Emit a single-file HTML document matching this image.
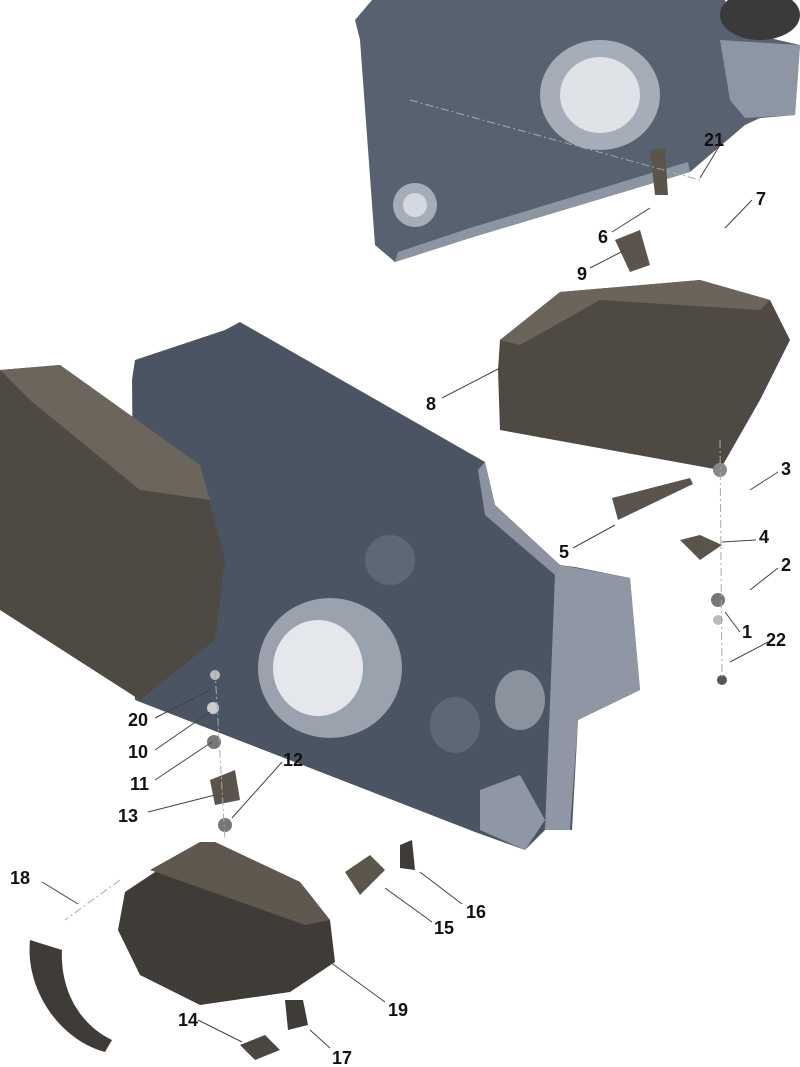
<!DOCTYPE html>
<html><head><meta charset="utf-8"><style>
html,body{margin:0;padding:0;background:#fff;width:800px;height:1067px;overflow:hidden}
svg text{font-family:"Liberation Sans",sans-serif;font-weight:bold;font-size:18px;fill:#111}
</style></head><body>
<svg width="800" height="1067" viewBox="0 0 800 1067" xmlns="http://www.w3.org/2000/svg">
<!-- top gearcase -->
<polygon points="372,0 725,0 735,30 800,45 795,115 760,118 745,125 690,172 470,238 395,262 375,245 360,40 355,20" fill="#58616f"/>
<polygon points="690,172 470,238 395,262 398,252 470,228 688,162" fill="#8c95a2"/>
<polygon points="720,40 800,45 795,115 745,118 730,100" fill="#8d96a3"/>
<ellipse cx="600" cy="95" rx="60" ry="55" fill="#a5adb8"/>
<ellipse cx="600" cy="95" rx="40" ry="38" fill="#dfe3e8"/>
<ellipse cx="415" cy="205" rx="22" ry="22" fill="#a5adb8"/>
<ellipse cx="415" cy="205" rx="12" ry="12" fill="#d5d9df"/>
<ellipse cx="760" cy="15" rx="40" ry="25" fill="#3a3a3a"/>
<!-- main gearcase -->
<polygon points="135,360 225,330 240,322 485,462 495,505 560,565 575,567 630,578 640,690 578,720 572,830 545,830 525,850 475,832 135,700 132,380" fill="#4b5463"/>
<polygon points="485,462 495,505 560,565 555,575 485,515 478,470" fill="#8a939f"/>
<polygon points="560,565 630,578 640,690 578,720 570,830 545,830 555,575" fill="#8e97a3"/>
<ellipse cx="330" cy="668" rx="72" ry="70" fill="#9aa2ad"/>
<ellipse cx="318" cy="668" rx="45" ry="48" fill="#e4e7eb"/>
<ellipse cx="390" cy="560" rx="25" ry="25" fill="#5e6776"/>
<ellipse cx="455" cy="725" rx="25" ry="28" fill="#5e6776"/>
<polygon points="480,790 520,775 545,820 525,850 480,830" fill="#8e97a3"/>
<ellipse cx="520" cy="700" rx="25" ry="30" fill="#8a929e"/>
<!-- right cover 8 -->
<polygon points="500,340 560,292 700,280 770,300 790,340 760,400 720,470 500,430 498,370" fill="#4e4942"/>
<polygon points="500,340 560,292 700,280 770,300 760,310 600,300 520,345" fill="#6a645a"/>
<!-- left cover -->
<polygon points="0,370 60,365 200,465 225,560 215,640 140,700 0,610" fill="#4e4942"/>
<polygon points="0,370 60,365 200,465 210,500 140,490 30,400" fill="#6b655b"/>
<!-- bottom cover 19 -->
<polygon points="125,892 200,842 215,842 300,882 330,920 335,962 290,992 200,1005 140,975 118,930" fill="#3f3b36"/>
<polygon points="150,870 200,842 215,842 300,882 330,920 305,925" fill="#5e584f"/>
<!-- part 18 -->
<path d="M30,940 C25,990 60,1040 105,1052 L112,1040 C80,1025 60,990 62,950 Z" fill="#3f3b36"/>
<!-- small parts -->
<polygon points="612,498 690,478 693,484 618,520" fill="#5a544c"/>
<polygon points="680,540 700,535 722,545 700,560" fill="#5a544c"/>
<polygon points="400,845 412,840 415,870 400,868" fill="#3f3b36"/>
<polygon points="345,872 370,855 385,870 360,895" fill="#5b554c"/>
<polygon points="285,1000 303,1000 308,1025 288,1030" fill="#3f3b36"/>
<polygon points="240,1045 265,1035 280,1050 255,1060" fill="#4b463f"/>
<polygon points="210,780 235,770 240,800 215,805" fill="#5a544c"/>
<polygon points="650,150 665,148 668,195 655,195" fill="#5a544c"/>
<polygon points="615,240 640,230 650,265 630,272" fill="#5a544c"/>
<circle cx="720" cy="470" r="7" fill="#888"/><circle cx="718" cy="600" r="7" fill="#777"/>
<circle cx="718" cy="620" r="5" fill="#bbb"/><circle cx="722" cy="680" r="5" fill="#555"/>
<circle cx="215" cy="675" r="5" fill="#bbb"/><circle cx="213" cy="708" r="6" fill="#ccc"/>
<circle cx="214" cy="742" r="7" fill="#777"/><circle cx="225" cy="825" r="7" fill="#777"/>
<!-- dashed connectors -->
<g stroke="#aaa" stroke-width="1" fill="none" stroke-dasharray="8,3,2,3">
<line x1="720" y1="440" x2="722" y2="680"/>
<line x1="215" y1="670" x2="225" y2="840"/>
<line x1="410" y1="100" x2="700" y2="180"/>
<line x1="120" y1="880" x2="65" y2="920"/>
</g>
<!-- leader lines -->
<g stroke="#444" stroke-width="1" fill="none">
<line x1="723" y1="140" x2="700" y2="178"/><line x1="752" y1="200" x2="725" y2="228"/>
<line x1="612" y1="232" x2="650" y2="208"/><line x1="590" y1="268" x2="625" y2="250"/>
<line x1="442" y1="398" x2="500" y2="368"/><line x1="778" y1="472" x2="750" y2="490"/>
<line x1="756" y1="540" x2="722" y2="542"/><line x1="573" y1="548" x2="615" y2="525"/>
<line x1="778" y1="568" x2="750" y2="590"/><line x1="740" y1="632" x2="725" y2="612"/>
<line x1="768" y1="642" x2="730" y2="662"/><line x1="155" y1="718" x2="210" y2="690"/>
<line x1="155" y1="750" x2="210" y2="712"/><line x1="155" y1="780" x2="212" y2="742"/>
<line x1="282" y1="762" x2="232" y2="818"/><line x1="148" y1="812" x2="215" y2="795"/>
<line x1="42" y1="882" x2="78" y2="904"/><line x1="462" y1="904" x2="420" y2="872"/>
<line x1="432" y1="922" x2="385" y2="888"/><line x1="385" y1="1002" x2="330" y2="962"/>
<line x1="198" y1="1020" x2="242" y2="1042"/><line x1="330" y1="1048" x2="310" y2="1030"/>
</g>
<g>
<text x="704" y="146">21</text><text x="756" y="205">7</text>
<text x="598" y="243">6</text><text x="577" y="280">9</text>
<text x="426" y="410">8</text><text x="781" y="475">3</text>
<text x="759" y="543">4</text><text x="559" y="558">5</text>
<text x="781" y="571">2</text><text x="742" y="638">1</text>
<text x="766" y="646">22</text><text x="128" y="726">20</text>
<text x="128" y="758">10</text><text x="130" y="790">11</text>
<text x="283" y="766">12</text><text x="118" y="822">13</text>
<text x="10" y="884">18</text><text x="466" y="918">16</text>
<text x="434" y="934">15</text><text x="388" y="1016">19</text>
<text x="178" y="1026">14</text><text x="332" y="1064">17</text>
</g>
</svg>
</body></html>
